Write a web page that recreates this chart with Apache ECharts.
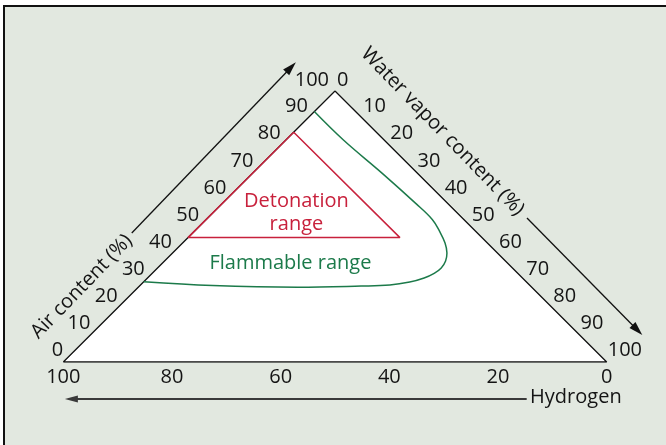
<!DOCTYPE html>
<html><head><meta charset="utf-8">
<script src="https://cdn.jsdelivr.net/npm/echarts@6/dist/echarts.min.js"></script>
<style>
html,body{margin:0;padding:0;background:#fff;width:666px;height:445px;overflow:hidden;}
#frame{position:absolute;left:3px;top:5px;width:663px;height:440px;border-top:2px solid #111;border-left:2px solid #111;background:#e2e8e0;box-sizing:border-box;}
#chart{position:absolute;left:0;top:0;width:666px;height:445px;}
</style></head><body><div id="frame"></div><div id="chart"></div>
<script>
// ---- data (ternary percentages: air, water; hydrogen = 100 - air - water) ----
const airTicks = [0, 10, 20, 30, 40, 50, 60, 70, 80, 90, 100];
const waterTicks = [0, 10, 20, 30, 40, 50, 60, 70, 80, 90, 100];
const hydrogenTicks = [100, 80, 60, 40, 20, 0];
const flammableAir   = [92.4, 81.9, 69.6, 58.7, 52.6, 48.0, 43.9, 40.2, 37.3, 34.7, 32.7, 31.0, 29.5, 28.4, 28.0, 27.6, 28.2, 29.6];
const flammableWater = [0.0, 10.6, 23.9, 35.4, 41.6, 45.3, 48.3, 50.5, 51.7, 52.2, 51.9, 50.9, 49.0, 45.9, 40.8, 29.3, 13.4, 0.0];
const detonationAir   = [84.8, 45.9, 45.9];
const detonationWater = [0.0, 39.0, 0.0];
const airTitle = 'Air content (%)';
const waterTitle = 'Water vapor content (%)';
const hydrogenTitle = 'Hydrogen';
const detonationLabel = 'Detonation\nrange';
const flammableLabel = 'Flammable range';

// ternary (air, water) -> cartesian frame of the triangle
function tern(air, water) { return [water + air / 2, air]; }

const FONT = "'Open Sans', sans-serif";
const FS = 20;
const TXT = '#141414';
const RED = '#c8213c';
const GREEN = '#1c7a4a';

const chart = echarts.init(document.getElementById('chart'), null, {renderer: 'canvas'});

function textPoint(pos, text, extra) {
  return {
    type: 'scatter', symbolSize: 0, silent: true, clip: false, z: 5,
    itemStyle: {opacity: 1},
    data: [pos],
    label: Object.assign({show: true, position: 'inside', formatter: text,
      fontFamily: FONT, fontSize: FS, color: TXT, opacity: 1}, extra || {})
  };
}

const arrows = [
  tern(47.6, -11.2).concat(tern(110.6, -12.5)),
  tern(53.14, 58.76).concat(tern(9.96, 101.57)),
  tern(-13.65, 85.3 + 6.8).concat(tern(-13.65, 0.31 + 6.8))
];

const tickLabel = {show: true, distance: 0, fontFamily: FONT, fontSize: FS, color: TXT, opacity: 1};

const option = {
  backgroundColor: 'transparent',
  animation: false,
  grid: {left: 63.3, right: 59.3, top: 91, bottom: 83, containLabel: false},
  xAxis: {type: 'value', min: 0, max: 100, show: false},
  yAxis: {type: 'value', min: 0, max: 100, show: false},
  series: [
    {
      name: 'triangle', type: 'line', silent: true, symbol: 'none', z: 1,
      data: [tern(0, 0), tern(100, 0), tern(0, 100), tern(0, 0)],
      lineStyle: {color: '#111', width: 1.3},
      areaStyle: {color: '#ffffff', opacity: 1}
    },
    {
      name: 'Flammable range', type: 'line', silent: true, symbol: 'none', smooth: 0.4, clip: false, z: 3,
      data: flammableAir.map((a, i) => tern(a, flammableWater[i])),
      lineStyle: {color: GREEN, width: 1.5}
    },
    {
      name: 'Detonation range', type: 'line', silent: true, symbol: 'none', clip: false, z: 3,
      data: detonationAir.concat([detonationAir[0]]).map((a, i) =>
        tern(a, detonationWater.concat([detonationWater[0]])[i])),
      lineStyle: {color: RED, width: 1.5}
    },
    {
      name: 'airTicks', type: 'scatter', symbolSize: 0, silent: true, clip: false, z: 5,
      itemStyle: {opacity: 1},
      data: airTicks.map(a => (a === 100
        ? {value: tern(a, 0), label: {offset: [-6, -11]}}
        : {value: tern(a, 0)})),
      label: Object.assign({position: 'left', offset: [0, -11.5],
        formatter: p => String(airTicks[p.dataIndex])}, tickLabel)
    },
    {
      name: 'waterTicks', type: 'scatter', symbolSize: 0, silent: true, clip: false, z: 5,
      itemStyle: {opacity: 1},
      data: waterTicks.map(w => (w === 0
        ? {value: tern(100 - w, w), label: {offset: [2, -11]}}
        : {value: tern(100 - w, w)})),
      label: Object.assign({position: 'right', offset: [1, -11.5],
        formatter: p => String(waterTicks[p.dataIndex])}, tickLabel)
    },
    {
      name: 'hydrogenTicks', type: 'scatter', symbolSize: 0, silent: true, clip: false, z: 5,
      itemStyle: {opacity: 1},
      data: hydrogenTicks.map(h => tern(0, 100 - h)),
      label: Object.assign({position: 'inside', offset: [0, 15],
        formatter: p => String(hydrogenTicks[p.dataIndex])}, tickLabel)
    },
    textPoint(tern(27.8, -10.5), airTitle, {rotate: 46}),
    textPoint(tern(85.0, 27.3), waterTitle, {rotate: -46}),
    textPoint(tern(-13.0, 92.4), hydrogenTitle, {position: 'right', distance: 0}),
    textPoint(tern(54.9, 15.45), detonationLabel, {color: RED, lineHeight: 23, align: 'center'}),
    textPoint(tern(36.6, 23.5), flammableLabel, {color: GREEN}),
    {
      name: 'arrows', type: 'custom', silent: true, clip: false, z: 4,
      data: arrows,
      renderItem: function (params, api) {
        const p1 = api.coord([api.value(0), api.value(1)]);
        const p2 = api.coord([api.value(2), api.value(3)]);
        const dx = p2[0] - p1[0], dy = p2[1] - p1[1];
        const len = Math.hypot(dx, dy);
        const ux = dx / len, uy = dy / len;
        const bottom = params.dataIndex === 2;
        const L = bottom ? 13 : 14, W = bottom ? 3.6 : 4.2;
        const color = bottom ? '#3a3a3a' : '#111';
        const bx = p2[0] - ux * L, by = p2[1] - uy * L;
        const nx = -uy, ny = ux;
        return {type: 'group', children: [
          {type: 'line', shape: {x1: p1[0], y1: p1[1], x2: bx + ux * 2, y2: by + uy * 2},
            style: {stroke: color, lineWidth: bottom ? 2 : 1.3}},
          {type: 'polygon', shape: {points: [[p2[0], p2[1]], [bx + nx * W, by + ny * W], [bx - nx * W, by - ny * W]]},
            style: {fill: color}}
        ]};
      }
    }
  ]
};
chart.setOption(option);
</script></body></html>
